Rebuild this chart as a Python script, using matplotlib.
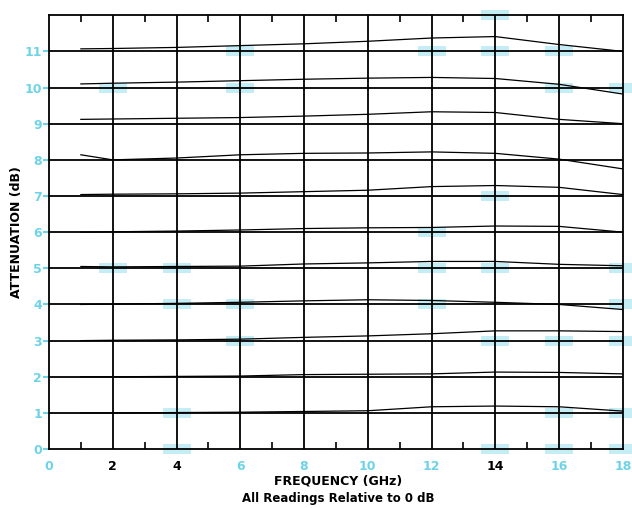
import matplotlib
matplotlib.use('Agg')
import matplotlib.pyplot as plt
import numpy as np

# ==========================================
# Attenuation vs frequency, one curve per nominal step (1..11 dB)
# values
# ==========================================

freq_ghz = [1, 2, 4, 6, 8, 10, 12, 14, 16, 18]

atten_1 = [1.00, 1.00, 1.01, 1.02, 1.04, 1.06, 1.17, 1.19, 1.17, 1.05]
atten_2 = [2.00, 2.00, 2.01, 2.02, 2.06, 2.07, 2.08, 2.13, 2.12, 2.08]
atten_3 = [3.00, 3.01, 3.02, 3.04, 3.09, 3.13, 3.19, 3.27, 3.27, 3.25]
atten_4 = [4.00, 4.01, 4.03, 4.06, 4.10, 4.13, 4.11, 4.06, 4.00, 3.86]
atten_5 = [5.05, 5.04, 5.05, 5.06, 5.12, 5.15, 5.19, 5.19, 5.11, 5.07]
atten_6 = [6.00, 6.01, 6.03, 6.06, 6.10, 6.12, 6.13, 6.17, 6.16, 6.00]
atten_7 = [7.04, 7.05, 7.06, 7.08, 7.12, 7.16, 7.26, 7.29, 7.24, 7.04]
atten_8 = [8.14, 8.00, 8.05, 8.14, 8.18, 8.19, 8.22, 8.18, 8.02, 7.75]
atten_9 = [9.12, 9.13, 9.15, 9.17, 9.21, 9.26, 9.33, 9.31, 9.12, 9.00]
atten_10 = [10.10, 10.12, 10.15, 10.19, 10.23, 10.26, 10.28, 10.25, 10.09, 9.82]
atten_11 = [11.07, 11.08, 11.11, 11.16, 11.21, 11.28, 11.37, 11.41, 11.19, 11.00]

curves = [atten_1, atten_2, atten_3, atten_4, atten_5, atten_6,
          atten_7, atten_8, atten_9, atten_10, atten_11]

nominal_db = list(range(1, 12))
x_ticks = [0, 2, 4, 6, 8, 10, 12, 14, 16, 18]
y_ticks = list(range(0, 12))

# faint cyan highlight spots from the print (freq, dB)
spot_freq = [2, 6, 6, 12, 14, 14, 16, 16, 18, 14, 12, 12, 14, 18, 2, 4, 4, 6, 6,
             12, 14, 16, 18, 18, 16, 18, 4, 4, 14, 16, 18]
spot_db = [10, 11, 10, 11, 12, 11, 11, 10, 10, 7, 6, 5, 5, 5, 5, 5, 4, 4, 3,
           4, 3, 3, 4, 3, 1, 1, 1, 0, 0, 0, 0]

CYAN = '#6fd3e8'

fig = plt.figure(figsize=(6.32, 5.08), dpi=100)
ax = fig.add_axes([0.0775, 0.116, 0.908, 0.854])

# highlight spots under everything
rect = [(-1.3, -0.45), (1.3, -0.45), (1.3, 0.45), (-1.3, 0.45)]
ax.scatter(spot_freq, spot_db, marker=rect, s=380, color=CYAN, alpha=0.4,
           linewidths=0, zorder=1, clip_on=False)

# reference grid: vertical every 2 GHz, horizontal every dB
for xv in x_ticks[1:-1]:
    ax.axvline(xv, color='black', lw=1.3, zorder=2)
for yv in nominal_db:
    ax.axhline(yv, color='black', lw=1.3, zorder=2)

# measured curves
for c in curves:
    ax.plot(freq_ghz, c, color='black', lw=0.9, zorder=3)

ax.set_xlim(0, 18)
ax.set_ylim(0, 12)
for sp in ax.spines.values():
    sp.set_linewidth(1.3)

ax.set_xticks(x_ticks)
ax.set_xticks(np.arange(1, 18, 2), minor=True)
ax.set_yticks(y_ticks)
ax.tick_params(axis='x', which='major', length=0, pad=8, labelsize=9)
ax.tick_params(axis='x', which='minor', direction='in', length=5, width=1.2,
               top=True, bottom=True)
ax.tick_params(axis='y', which='major', direction='out', length=4, width=1.5,
               color=CYAN, pad=1, labelsize=9, labelcolor=CYAN)

ax.set_xticklabels([str(v) for v in x_ticks], fontweight='bold')
ax.set_yticklabels([str(v) for v in y_ticks], fontweight='bold')
for lab in ax.get_xticklabels():
    lab.set_color('black' if lab.get_text() in ('2', '4', '14') else CYAN)

ax.set_ylabel('ATTENUATION (dB)', fontsize=9, fontweight='bold')
ax.yaxis.set_label_coords(-0.045, 0.5)
fig.text(0.535, 0.053, 'FREQUENCY (GHz)', fontsize=9, fontweight='bold',
         ha='center', va='center')
fig.text(0.535, 0.018, 'All Readings Relative to 0 dB', fontsize=8.5,
         fontweight='bold', ha='center', va='center')

fig.savefig('out.png', dpi=100)
